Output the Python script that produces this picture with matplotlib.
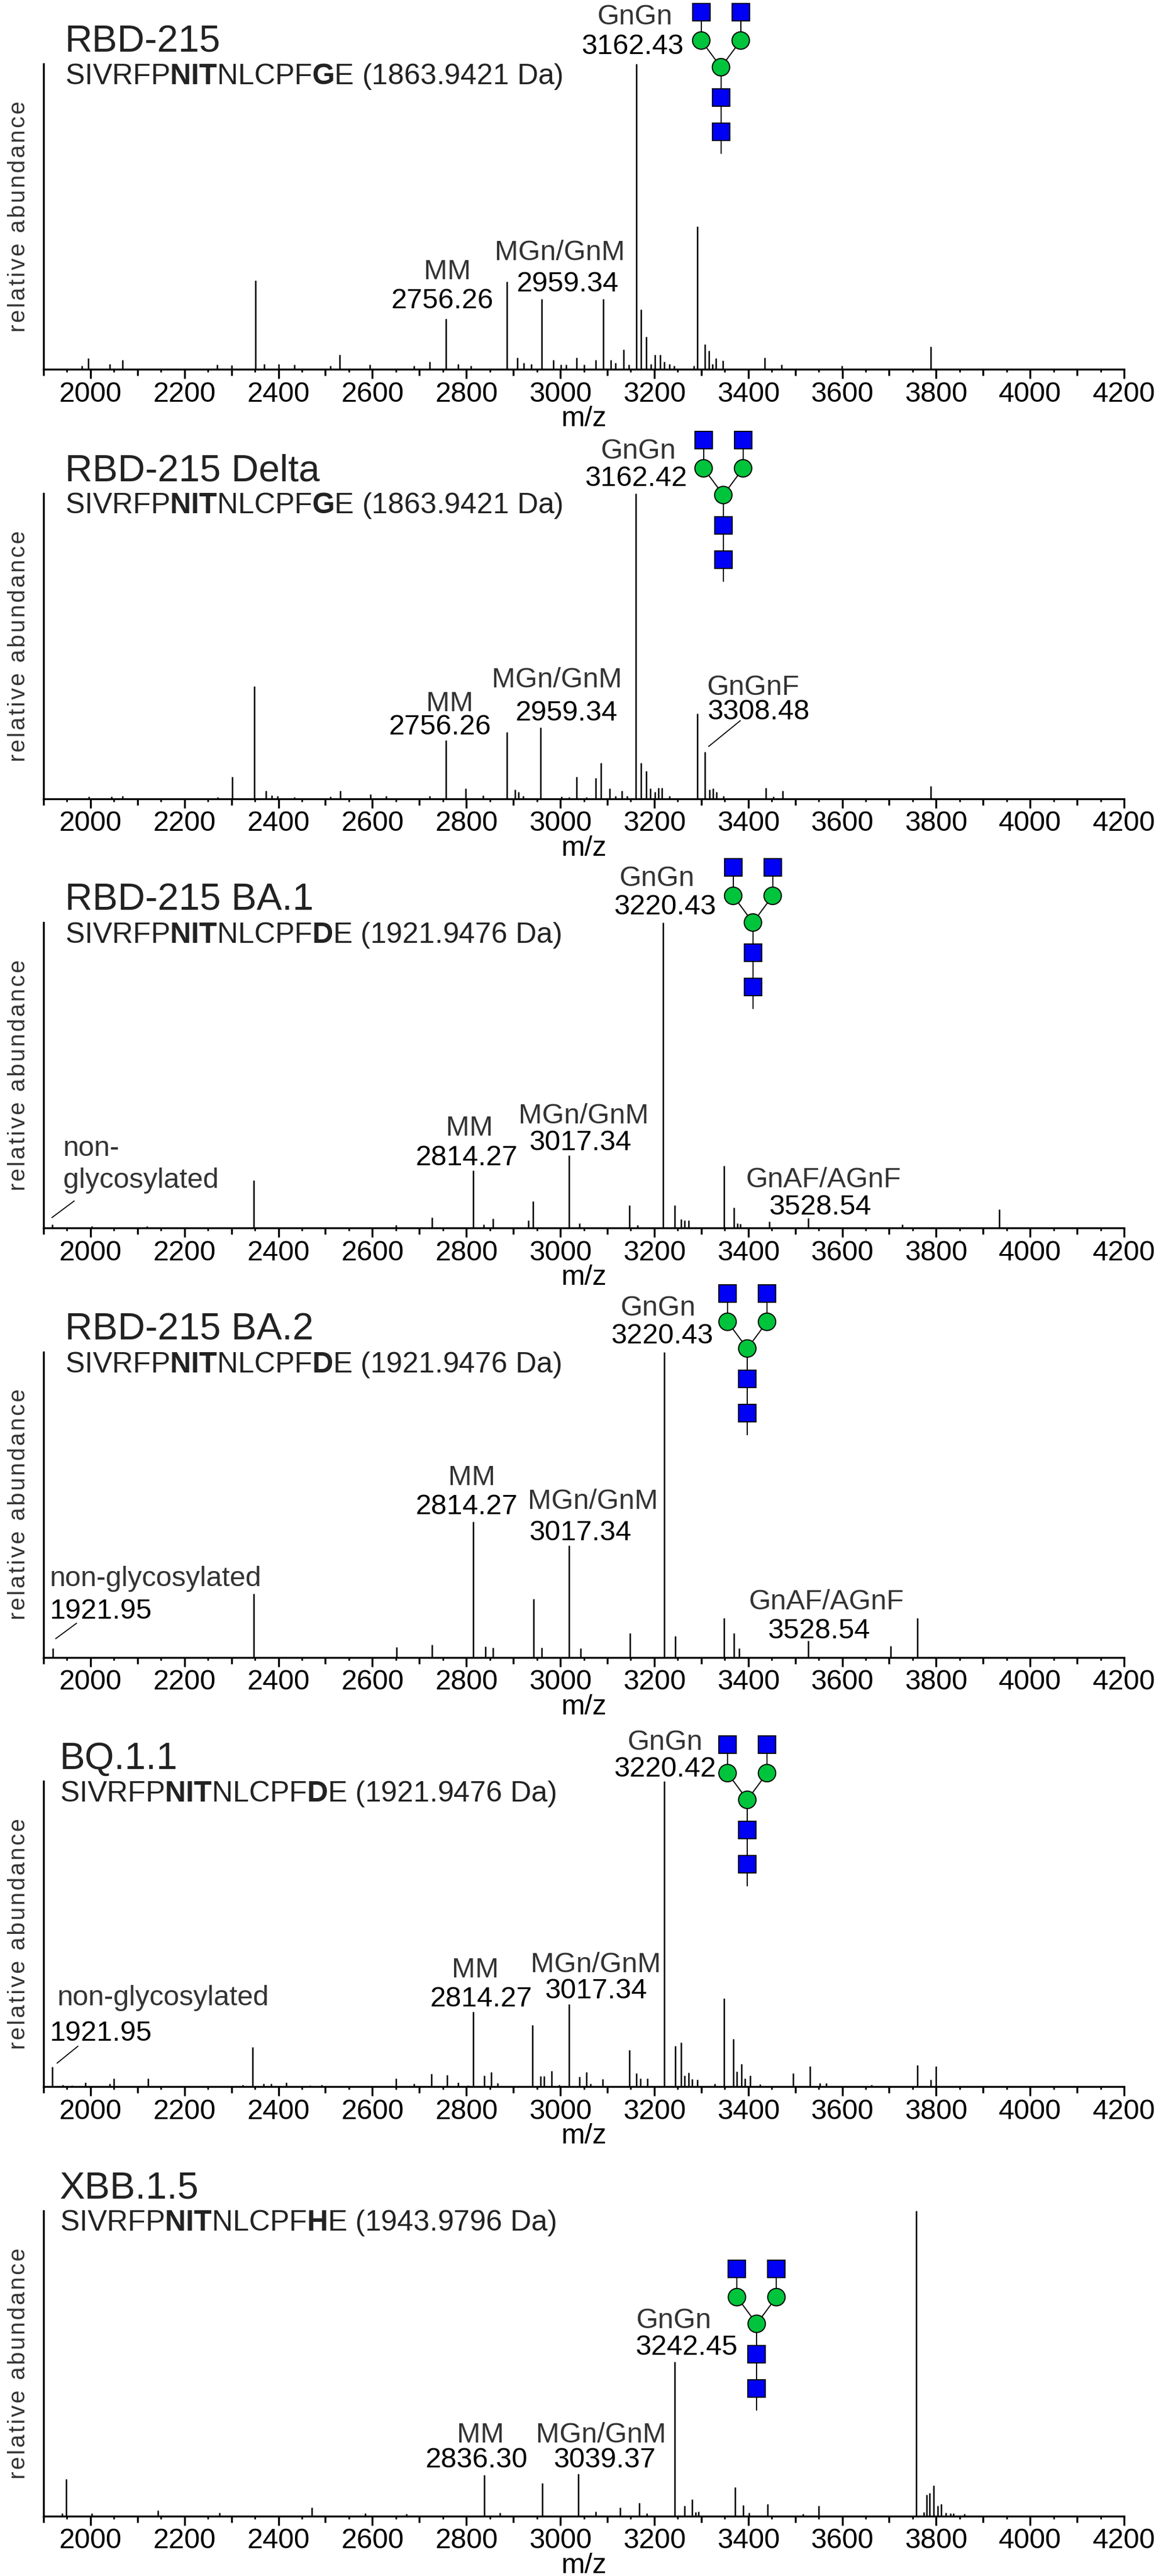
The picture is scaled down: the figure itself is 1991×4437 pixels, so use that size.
import matplotlib
matplotlib.use('Agg')
import matplotlib.pyplot as plt
from matplotlib.patches import Circle, Rectangle

plt.rcParams['font.family'] = ['Liberation Sans', 'DejaVu Sans']
plt.rcParams['mathtext.fontset'] = 'custom'
plt.rcParams['mathtext.rm'] = 'Liberation Sans'
plt.rcParams['mathtext.bf'] = 'Liberation Sans:bold'

# ---- data ----
titles = ['RBD-215', 'RBD-215 Delta', 'RBD-215 BA.1', 'RBD-215 BA.2', 'BQ.1.1', 'XBB.1.5']
peptides = [
    r'SIVRFP$\mathbf{NIT}$NLCPF$\mathbf{G}$E (1863.9421 Da)',
    r'SIVRFP$\mathbf{NIT}$NLCPF$\mathbf{G}$E (1863.9421 Da)',
    r'SIVRFP$\mathbf{NIT}$NLCPF$\mathbf{D}$E (1921.9476 Da)',
    r'SIVRFP$\mathbf{NIT}$NLCPF$\mathbf{D}$E (1921.9476 Da)',
    r'SIVRFP$\mathbf{NIT}$NLCPF$\mathbf{D}$E (1921.9476 Da)',
    r'SIVRFP$\mathbf{NIT}$NLCPF$\mathbf{H}$E (1943.9796 Da)',
]

rbd215_mz = [1981, 1995, 2041, 2068, 2269, 2300, 2351, 2370, 2401, 2434, 2510, 2530, 2595,
             2689, 2722, 2757, 2782, 2810, 2886, 2908, 2922, 2938, 2960, 2985, 3001, 3012,
             3034, 3051, 3075, 3091, 3108, 3117, 3135, 3146, 3162, 3172, 3183, 3193, 3202,
             3213, 3221, 3232, 3242, 3284, 3292, 3308, 3316, 3324, 3331, 3346, 3435, 3471,
             3599, 3788]
rbd215_int = [1.1, 3.6, 1.8, 3.0, 1.5, 1.3, 29.0, 1.8, 1.8, 1.5, 1.1, 4.7, 1.5,
              1.1, 2.5, 16.6, 1.8, 1.2, 28.7, 3.8, 2.0, 1.8, 23.0, 3.0, 1.5, 1.5,
              3.8, 1.5, 3.0, 23.0, 3.0, 2.0, 6.5, 1.5, 100, 19.6, 10.6, 1.8, 4.7,
              4.7, 2.5, 1.8, 1.2, 1.2, 46.8, 8.1, 6.0, 1.8, 3.6, 2.9, 3.8, 1.5,
              1.1, 7.4]

delta_mz = [1997, 2044, 2068, 2271, 2302, 2349, 2373, 2386, 2398, 2434, 2510, 2532, 2596,
            2629, 2722, 2757, 2798, 2836, 2886, 2903, 2911, 2921, 2958, 3002, 3018, 3035,
            3056, 3075, 3087, 3105, 3117, 3131, 3142, 3161, 3172, 3183, 3191, 3201, 3209,
            3216, 3232, 3292, 3308, 3317, 3325, 3333, 3347, 3437, 3453, 3473, 3789]
delta_int = [0.6, 0.6, 0.9, 0.4, 7.2, 36.8, 2.5, 1.1, 0.9, 0.4, 0.6, 2.5, 1.5,
             0.9, 0.9, 19.1, 3.4, 1.1, 21.8, 2.9, 2.2, 0.9, 23.2, 0.6, 0.4, 7.2,
             0.4, 6.7, 11.6, 3.4, 0.9, 2.5, 0.9, 100, 11.7, 9.0, 3.4, 2.2, 3.6,
             3.6, 0.9, 27.8, 15.3, 2.9, 3.4, 2.2, 0.9, 3.6, 0.6, 2.5, 4.1]

ba1_mz = [1918, 2002, 2120, 2347, 2650, 2727, 2814, 2837, 2856, 2932, 2942, 3019, 3041,
          3147, 3164, 3219, 3243, 3257, 3265, 3273, 3348, 3369, 3377, 3383, 3445, 3528,
          3728, 3934]
ba1_int = [1.2, 0.6, 0.5, 15.6, 1.0, 3.4, 18.8, 1.2, 3.0, 2.5, 8.7, 23.7, 1.6,
           7.5, 0.9, 100, 7.5, 2.8, 2.5, 2.5, 20.3, 6.6, 1.6, 1.4, 2.1, 3.2,
           1.2, 6.1]

ba2_mz = [1920, 2347, 2651, 2727, 2814, 2841, 2856, 2943, 2960, 3019, 3043, 3148, 3221,
          3245, 3349, 3369, 3380, 3528, 3703, 3760]
ba2_int = [2.9, 20.8, 3.3, 4.1, 44.4, 3.5, 3.2, 19.2, 3.2, 36.6, 3.0, 7.9, 100,
           7.0, 12.9, 7.9, 3.0, 5.4, 3.8, 12.9]

bq11_mz = [1919, 1941, 1960, 1989, 2041, 2049, 2122, 2324, 2345, 2369, 2384, 2416, 2467,
           2492, 2650, 2688, 2726, 2759, 2783, 2803, 2815, 2838, 2853, 2867, 2941, 2958,
           2965, 2981, 2998, 3019, 3041, 3055, 3064, 3090, 3147, 3162, 3170, 3185, 3221,
           3245, 3257, 3265, 3273, 3281, 3292, 3329, 3349, 3368, 3376, 3385, 3393, 3404,
           3425, 3496, 3531, 3552, 3566, 3662, 3760, 3789, 3800]
bq11_int = [6.5, 0.5, 0.4, 1.4, 0.9, 2.7, 2.7, 0.6, 13.0, 0.9, 0.9, 1.4, 0.4,
            0.6, 2.7, 0.9, 4.1, 3.8, 1.4, 0.4, 24.5, 3.6, 4.8, 1.1, 20.2, 3.4,
            3.4, 5.2, 0.5, 27.0, 3.2, 4.8, 0.9, 2.4, 12.0, 4.3, 2.7, 2.7, 100,
            13.4, 14.5, 3.6, 4.5, 2.5, 2.3, 0.9, 28.9, 15.6, 5.0, 7.5, 2.7, 3.6,
            0.7, 4.3, 6.6, 1.1, 1.1, 0.5, 7.1, 2.3, 6.6]

xbb15_mz = [1940, 1948, 2003, 2144, 2275, 2471, 2585, 2672, 2838, 2872, 2962, 3038, 3075,
            3127, 3168, 3184, 3244, 3264, 3280, 3288, 3294, 3372, 3389, 3402, 3441, 3517,
            3550, 3757, 3773, 3780, 3786, 3795, 3803, 3811, 3821, 3830, 3837, 3860]
xbb15_int = [0.8, 12.0, 0.8, 1.8, 1.1, 2.7, 0.8, 0.6, 13.4, 1.1, 10.7, 13.8, 1.5,
             2.7, 4.2, 0.8, 50.5, 3.3, 5.5, 1.2, 1.5, 9.4, 3.6, 1.1, 3.9, 0.6,
             3.3, 100, 1.2, 6.9, 7.6, 10.0, 3.3, 3.9, 1.1, 0.9, 0.9, 0.6]

spectra_mz = [rbd215_mz, delta_mz, ba1_mz, ba2_mz, bq11_mz, xbb15_mz]
spectra_int = [rbd215_int, delta_int, ba1_int, ba2_int, bq11_int, xbb15_int]

# labels: (name, mass, name x, name baseline, mass x, mass baseline, ha)
labels = [
    [('GnGn', '3162.43', 3158, 112.9, 3154, 103.2, 'center'),
     ('MM', '2756.26', 2760, 29.4, 2749, 20.0, 'center'),
     ('MGn/GnM', '2959.34', 2999, 35.7, 3015, 25.4, 'center')],
    [('GnGn', '3162.42', 3166, 111.3, 3161, 102.3, 'center'),
     ('MM', '2756.26', 2765, 28.7, 2744, 21.1, 'center'),
     ('MGn/GnM', '2959.34', 2993, 36.4, 3013, 25.6, 'center'),
     ('GnGnF', '3308.48', 3410, 33.9, 3421, 26.0, 'center')],
    [('GnGn', '3220.43', 3206, 112.0, 3222, 102.6, 'center'),
     ('MM', '2814.27', 2806, 30.2, 2801, 20.6, 'center'),
     ('MGn/GnM', '3017.34', 3050, 34.2, 3042, 25.4, 'center'),
     ('non-', 'glycosylated', 1942, 23.6, 1942, 13.2, 'left'),
     ('GnAF/AGnF', '3528.54', 3560, 13.4, 3553, 4.4, 'center')],
    [('GnGn', '3220.43', 3208, 111.9, 3216, 102.8, 'center'),
     ('MM', '2814.27', 2812, 56.3, 2801, 46.8, 'center'),
     ('MGn/GnM', '3017.34', 3069, 48.5, 3042, 38.3, 'center'),
     ('non-glycosylated', '1921.95', 1913, 23.2, 1913, 12.7, 'left'),
     ('GnAF/AGnF', '3528.54', 3566, 15.7, 3550, 6.2, 'center')],
    [('GnGn', '3220.42', 3223, 110.3, 3223, 101.5, 'center'),
     ('MM', '2814.27', 2819, 35.7, 2832, 26.2, 'center'),
     ('MGn/GnM', '3017.34', 3075, 37.5, 3075, 28.9, 'center'),
     ('non-glycosylated', '1921.95', 1929, 26.6, 1913, 15.0, 'left')],
    [('GnGn', '3242.45', 3241, 61.5, 3268, 52.8, 'center'),
     ('MM', '2836.30', 2830, 24.1, 2822, 15.9, 'center'),
     ('MGn/GnM', '3039.37', 3086, 24.1, 3094, 15.9, 'center')],
]

leaders = [
    [],
    [((3383, 25.5), (3316, 17.1))],
    [((1965, 8.8), (1918, 3.4))],
    [((1970, 11.1), (1926, 6.1))],
    [((1973, 13.2), (1929, 7.7))],
    [],
]

# glycan cartoon anchor: (m/z of stem, axes fraction of core mannose)
glycan_mz = [3342, 3347, 3410, 3398, 3398, 3418]
glycan_yf = [0.989, 0.994, 1.0, 1.011, 0.939, 0.629]
title_xf = [0.0199, 0.0199, 0.0199, 0.0199, 0.015, 0.015]

W, H = 1991, 4437
blue = '#0000f5'
green = '#00c43c'
name_color = '#333333'

fig = plt.figure(figsize=(W / 100, H / 100), dpi=100)
overlay = fig.add_axes([0, 0, 1, 1])
overlay.set_xlim(0, W)
overlay.set_ylim(0, H)
overlay.axis('off')
overlay.set_zorder(10)


def draw_glycan(ov, cx, cy):
    lw = 1.4
    for sx in (-34, 34):
        ov.plot([cx, cx + sx], [cy, cy + 46], color='black', lw=lw, zorder=1)
        ov.plot([cx + sx, cx + sx], [cy + 46, cy + 95], color='black', lw=lw, zorder=1)
    ov.plot([cx, cx], [cy, cy - 148], color='black', lw=lw, zorder=1)
    for sx in (-34, 34):
        ov.add_patch(Rectangle((cx + sx - 15, cy + 95 - 15), 30, 30, fc=blue, ec='black', lw=lw, zorder=2))
        ov.add_patch(Circle((cx + sx, cy + 46), 15, fc=green, ec='black', lw=lw, zorder=2))
    ov.add_patch(Circle((cx, cy), 15, fc=green, ec='black', lw=lw, zorder=2))
    for dy in (52, 111):
        ov.add_patch(Rectangle((cx - 15, cy - dy - 15), 30, 30, fc=blue, ec='black', lw=lw, zorder=2))


for k in range(6):
    top = 110 + 739.5 * k
    ax = fig.add_axes([75 / W, 1 - (top + 526) / H, 1861 / W, 526 / H])
    ax.vlines(spectra_mz[k], 0, spectra_int[k], color='black', lw=1.8)
    ax.set_xlim(1900, 4200)
    ax.set_ylim(0, 100)
    for s in ('top', 'right'):
        ax.spines[s].set_visible(False)
    for s in ('left', 'bottom'):
        ax.spines[s].set_linewidth(2.4)
    ax.set_xticks(range(2000, 4201, 200))
    ax.set_xticks([v for v in range(1950, 4200, 100)], minor=True)
    ax.set_yticks([])
    ax.tick_params(axis='x', which='major', length=11.5, width=2.4, pad=3.6, labelsize=35)
    ax.tick_params(axis='x', which='minor', length=3.6, width=2.0)
    sec = ax.secondary_xaxis('bottom')
    sec.set_xticks(range(1900, 4200, 200))
    sec.tick_params(axis='x', length=8, width=2.4, labelbottom=False)
    sec.spines['bottom'].set_visible(False)

    ax.set_xlabel('m/z', fontsize=35, labelpad=-2)
    ax.set_ylabel('\u200a'.join('relative abundance'), fontsize=29, color='#333333')
    ax.yaxis.label.set_va('baseline')
    ax.yaxis.set_label_coords(-0.0172, 0.5)

    ax.text(title_xf[k], 1 + 21 / 526, titles[k], transform=ax.transAxes,
            fontsize=47, color='#222222', va='baseline', ha='left')
    ax.text(title_xf[k], 1 - 35 / 526, peptides[k], transform=ax.transAxes,
            fontsize=36, color='#222222', va='baseline', ha='left')

    for name, mass, nx, ny, mx, my, ha in labels[k]:
        ax.text(nx, ny, name, fontsize=35, color=name_color, ha=ha, va='baseline', clip_on=False)
        mcol = name_color if mass == 'glycosylated' else 'black'
        ax.text(mx, my, mass, fontsize=35, color=mcol, ha=ha, va='baseline', clip_on=False)
    for (x0, y0), (x1, y1) in leaders[k]:
        ax.plot([x0, x1], [y0, y1], color='black', lw=1.3, clip_on=False)

    px = ax.transData.transform((glycan_mz[k], 0))[0]
    py = ax.transAxes.transform((0, glycan_yf[k]))[1]
    draw_glycan(overlay, px, py)

fig.savefig('out.png', dpi=100)
